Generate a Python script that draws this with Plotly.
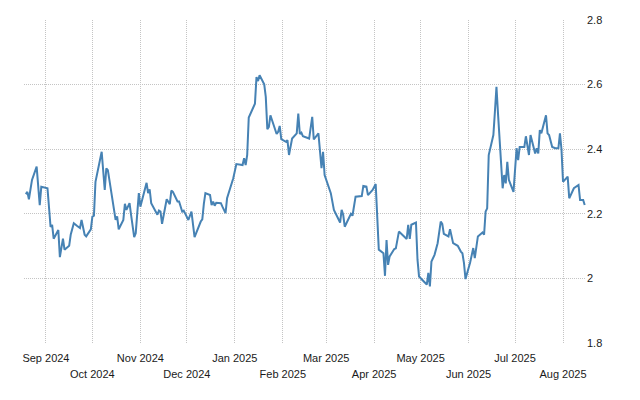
import plotly.graph_objects as go

dates = [
    "2024-08-19", "2024-08-20", "2024-08-21", "2024-08-23", "2024-08-26", "2024-08-28", "2024-08-29",
    "2024-09-02", "2024-09-04", "2024-09-05", "2024-09-06", "2024-09-09", "2024-09-10", "2024-09-12",
    "2024-09-13", "2024-09-16", "2024-09-17", "2024-09-19", "2024-09-21", "2024-09-23", "2024-09-24",
    "2024-09-26", "2024-09-27", "2024-09-30", "2024-10-01", "2024-10-02", "2024-10-03", "2024-10-07",
    "2024-10-09", "2024-10-10", "2024-10-11", "2024-10-15", "2024-10-16", "2024-10-17", "2024-10-18",
    "2024-10-21", "2024-10-22", "2024-10-23", "2024-10-25", "2024-10-26", "2024-10-28", "2024-10-29",
    "2024-10-31", "2024-11-01", "2024-11-05", "2024-11-06", "2024-11-07", "2024-11-08", "2024-11-12",
    "2024-11-13", "2024-11-14", "2024-11-15", "2024-11-18", "2024-11-20", "2024-11-21", "2024-11-22",
    "2024-11-25", "2024-11-26", "2024-11-28", "2024-11-29", "2024-12-02", "2024-12-04", "2024-12-05",
    "2024-12-06", "2024-12-10", "2024-12-11", "2024-12-12", "2024-12-13", "2024-12-16", "2024-12-17",
    "2024-12-18", "2024-12-19", "2024-12-20", "2024-12-23", "2024-12-24", "2024-12-26", "2024-12-27",
    "2024-12-31", "2025-01-02", "2025-01-06", "2025-01-07", "2025-01-08", "2025-01-09", "2025-01-10",
    "2025-01-14", "2025-01-15", "2025-01-16", "2025-01-17", "2025-01-20", "2025-01-21", "2025-01-22",
    "2025-01-23", "2025-01-24", "2025-01-28", "2025-01-29", "2025-01-30", "2025-01-31", "2025-02-03",
    "2025-02-04", "2025-02-05", "2025-02-07", "2025-02-10", "2025-02-11", "2025-02-12", "2025-02-13",
    "2025-02-14", "2025-02-18", "2025-02-20", "2025-02-21", "2025-02-24", "2025-02-26", "2025-02-27",
    "2025-02-28", "2025-03-04", "2025-03-06", "2025-03-07", "2025-03-10", "2025-03-11", "2025-03-12",
    "2025-03-13", "2025-03-17", "2025-03-18", "2025-03-20", "2025-03-24", "2025-03-25", "2025-03-27",
    "2025-03-28", "2025-03-31", "2025-04-02", "2025-04-04", "2025-04-07", "2025-04-08", "2025-04-09",
    "2025-04-10", "2025-04-11", "2025-04-14", "2025-04-15", "2025-04-17", "2025-04-18", "2025-04-21",
    "2025-04-22", "2025-04-23", "2025-04-24", "2025-04-25", "2025-04-28", "2025-04-29", "2025-04-30",
    "2025-05-02", "2025-05-05", "2025-05-06", "2025-05-07", "2025-05-08", "2025-05-10", "2025-05-12",
    "2025-05-14", "2025-05-15", "2025-05-16", "2025-05-19", "2025-05-20", "2025-05-22", "2025-05-25",
    "2025-05-27", "2025-05-28", "2025-05-29", "2025-05-30", "2025-06-02", "2025-06-04", "2025-06-05",
    "2025-06-07", "2025-06-10", "2025-06-11", "2025-06-12", "2025-06-13", "2025-06-14", "2025-06-17",
    "2025-06-18", "2025-06-19", "2025-06-20", "2025-06-23", "2025-06-24", "2025-06-25", "2025-06-26",
    "2025-06-27", "2025-06-30", "2025-07-02", "2025-07-03", "2025-07-04", "2025-07-07", "2025-07-08",
    "2025-07-10", "2025-07-11", "2025-07-14", "2025-07-15", "2025-07-16", "2025-07-17", "2025-07-18",
    "2025-07-21", "2025-07-22", "2025-07-23", "2025-07-25", "2025-07-27", "2025-07-29", "2025-07-30",
    "2025-07-31", "2025-08-01", "2025-08-04", "2025-08-05", "2025-08-08", "2025-08-11", "2025-08-12",
    "2025-08-14", "2025-08-15",
]

values = [
    2.261, 2.268, 2.245, 2.305, 2.346, 2.227, 2.284,
    2.279, 2.159, 2.166, 2.123, 2.150, 2.066, 2.123,
    2.089, 2.101, 2.135, 2.171, 2.163, 2.156, 2.181,
    2.135, 2.130, 2.152, 2.191, 2.194, 2.299, 2.392,
    2.274, 2.341, 2.335, 2.202, 2.181, 2.192, 2.152,
    2.181, 2.231, 2.212, 2.233, 2.197, 2.128, 2.140,
    2.264, 2.222, 2.296, 2.264, 2.276, 2.233, 2.197,
    2.210, 2.207, 2.169, 2.245, 2.230, 2.272, 2.268,
    2.238, 2.238, 2.207, 2.210, 2.181, 2.207, 2.163,
    2.128, 2.176, 2.183, 2.231, 2.264, 2.258, 2.227,
    2.238, 2.225, 2.234, 2.233, 2.222, 2.202, 2.248,
    2.310, 2.354, 2.351, 2.372, 2.351, 2.382, 2.498,
    2.541, 2.623, 2.611, 2.629, 2.601, 2.562, 2.462,
    2.469, 2.505, 2.447, 2.454, 2.472, 2.431, 2.423,
    2.428, 2.382, 2.433, 2.449, 2.510, 2.447, 2.451,
    2.440, 2.433, 2.500, 2.430, 2.449, 2.341, 2.392,
    2.320, 2.264, 2.212, 2.202, 2.173, 2.212, 2.197,
    2.160, 2.200, 2.194, 2.253, 2.255, 2.286, 2.284,
    2.258, 2.274, 2.292, 2.089, 2.078, 2.008, 2.119,
    2.042, 2.068, 2.091, 2.093, 2.145, 2.140, 2.128,
    2.122, 2.166, 2.122, 2.166, 2.173, 2.058, 2.006,
    1.996, 1.981, 2.017, 1.975, 2.052, 2.073, 2.109,
    2.176, 2.169, 2.138, 2.130, 2.152, 2.109, 2.101,
    2.083, 2.078, 2.048, 1.998, 2.049, 2.094, 2.063,
    2.130, 2.142, 2.135, 2.207, 2.217, 2.382, 2.444,
    2.516, 2.593, 2.510, 2.279, 2.320, 2.294, 2.361,
    2.305, 2.268, 2.403, 2.366, 2.407, 2.407, 2.440,
    2.382, 2.444, 2.387, 2.403, 2.387, 2.459, 2.449,
    2.505, 2.449, 2.444, 2.407, 2.403, 2.403, 2.449,
    2.399, 2.299, 2.315, 2.248, 2.279, 2.289, 2.243,
    2.243, 2.227,
]

month_ticks = [
    "2024-09-01", "2024-10-01", "2024-11-01", "2024-12-01", "2025-01-01", "2025-02-01",
    "2025-03-01", "2025-04-01", "2025-05-01", "2025-06-01", "2025-07-01", "2025-08-01",
]
month_labels = [
    "Sep 2024", "Oct 2024", "Nov 2024", "Dec 2024", "Jan 2025", "Feb 2025",
    "Mar 2025", "Apr 2025", "May 2025", "Jun 2025", "Jul 2025", "Aug 2025",
]
y_ticks = [1.8, 2.0, 2.2, 2.4, 2.6, 2.8]
y_labels = ["1.8", "2", "2.2", "2.4", "2.6", "2.8"]

x_range = ["2024-08-17 20:00", "2025-08-15 20:00"]
upper_text = [lab if i % 2 == 0 else "" for i, lab in enumerate(month_labels)]
lower_vals = month_ticks[1::2]
lower_text = month_labels[1::2]

fig = go.Figure()
# invisible copy bound to the second x axis, so the lower label row is drawn
fig.add_trace(go.Scatter(
    x=dates, y=values, mode="lines", xaxis="x2",
    line=dict(color="rgba(0,0,0,0)", width=0),
    hoverinfo="skip",
))
fig.add_trace(go.Scatter(
    x=dates, y=values, mode="lines",
    line=dict(color="#4682B4", width=2),
    hoverinfo="skip",
))

grid = dict(showgrid=True, gridcolor="#c4c4c4", gridwidth=1, griddash="1px,1px",
            zeroline=False, showline=False, automargin=False)
tfont = dict(family="Liberation Sans, Arial, sans-serif", size=11, color="#1a1a1a")

fig.update_layout(
    width=640, height=400,
    margin=dict(l=24, r=54, t=20, b=57),
    paper_bgcolor="white", plot_bgcolor="white",
    showlegend=False,
    font=tfont,
    xaxis=dict(
        type="date", range=x_range,
        tickmode="array", tickvals=month_ticks, ticktext=upper_text,
        ticks="", tickangle=0, tickfont=tfont, ticklabelstandoff=7,
        **grid,
    ),
    xaxis2=dict(
        type="date", range=x_range, overlaying="x", side="bottom", anchor="y",
        tickmode="array", tickvals=lower_vals, ticktext=lower_text,
        ticks="", tickangle=0, tickfont=tfont, ticklabelstandoff=23,
        showgrid=False, zeroline=False, showline=False, automargin=False,
    ),
    yaxis=dict(
        side="right", range=[1.8, 2.8],
        tickmode="array", tickvals=y_ticks, ticktext=y_labels,
        ticks="", tickfont=tfont,
        **grid,
    ),
)

fig.write_html("out.html")
